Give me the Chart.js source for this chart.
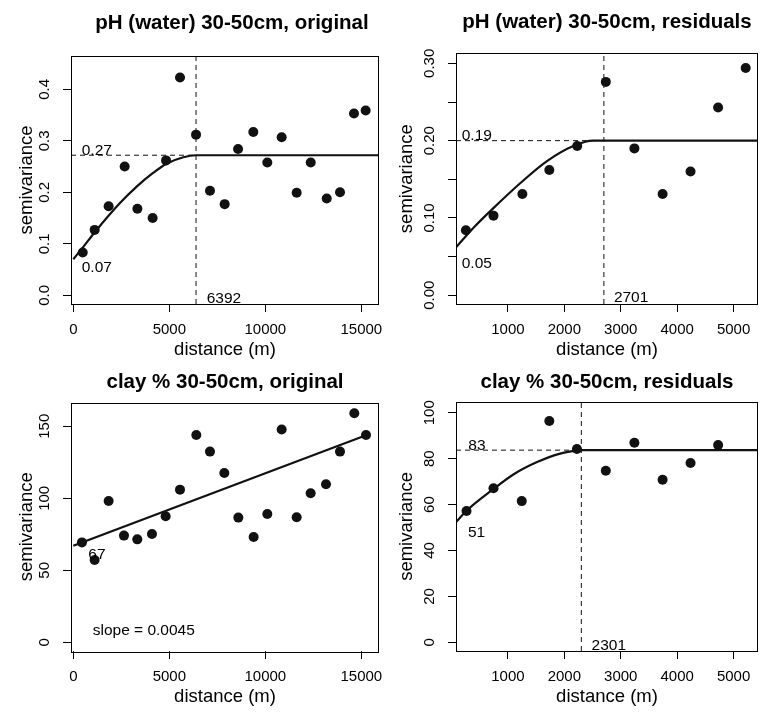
<!DOCTYPE html>
<html>
<head>
<meta charset="utf-8">
<script src="https://cdn.jsdelivr.net/npm/chart.js@4.4.1/dist/chart.umd.min.js"></script>
<style>
  html, body { margin: 0; padding: 0; background: #fff; }
  #wrap { position: relative; width: 763px; height: 713px; }
  #wrap canvas { position: absolute; left: 0; top: 0; }
</style>
</head>
<body>
<div id="wrap">
  <canvas id="c1" width="763" height="713"></canvas>
  <canvas id="c2" width="763" height="713"></canvas>
  <canvas id="c3" width="763" height="713"></canvas>
  <canvas id="c4" width="763" height="713"></canvas>
</div>
<script>
// pH (water) 30-50cm, original
const phOrigDist = [490, 1113, 1840, 2674, 3337, 4132, 4830, 5557, 6392, 7118, 7882, 8580, 9375, 10104, 10851, 11632, 12365, 13198, 13889, 14618, 15226];
const phOrigGamma = [0.083, 0.127, 0.173, 0.250, 0.168, 0.150, 0.262, 0.423, 0.312, 0.203, 0.177, 0.284, 0.317, 0.258, 0.307, 0.199, 0.258, 0.188, 0.200, 0.353, 0.359];
const phOrigFitDist = [0, 520, 1130, 2430, 3300, 4170, 4830, 5730, 6392, 15920];
const phOrigFitGamma = [0.070, 0.094, 0.123, 0.179, 0.211, 0.238, 0.255, 0.268, 0.272, 0.272];

// pH (water) 30-50cm, residuals
const phResDist = [255, 744, 1256, 1734, 2228, 2735, 3242, 3742, 4237, 4726, 5215];
const phResGamma = [0.084, 0.103, 0.131, 0.162, 0.193, 0.276, 0.190, 0.131, 0.160, 0.243, 0.294];
const phResFitDist = [80, 411, 761, 1227, 1692, 2158, 2507, 2701, 5440];
const phResFitGamma = [0.062, 0.089, 0.114, 0.1455, 0.1735, 0.193, 0.200, 0.200, 0.200];

// clay % 30-50cm, original
const clayOrigDist = [451, 1111, 1840, 2639, 3333, 4097, 4809, 5556, 6406, 7118, 7865, 8594, 9392, 10104, 10851, 11632, 12361, 13160, 13889, 14635, 15243];
const clayOrigGamma = [69.4, 57.2, 98.1, 74.1, 71.5, 75.2, 87.5, 106.0, 144.0, 132.4, 117.6, 86.6, 73.1, 89.1, 147.7, 86.8, 103.5, 109.7, 132.4, 159.0, 144.0];
const clayOrigFitDist = [0, 15280];
const clayOrigFitGamma = [67.1, 144.0];

// clay % 30-50cm, residuals
const clayResDist = [266, 744, 1245, 1734, 2223, 2735, 3242, 3742, 4237, 4726];
const clayResGamma = [57.2, 67.1, 61.5, 96.4, 84.2, 74.7, 86.9, 70.8, 78.1, 85.9];
const clayResFitDist = [80, 267, 731, 1110, 1517, 1926, 2216, 2301, 5440];
const clayResFitGamma = [52.4, 57.3, 66.5, 73.3, 78.5, 82.2, 83.5, 83.7, 83.7];

// tick values
const xTicksLong = [0, 5000, 10000, 15000];
const xTicksShort = [1000, 2000, 3000, 4000, 5000];
const yTicksPhOrig = [0, 0.1, 0.2, 0.3, 0.4];
const yTicksPhRes = [0, 0.05, 0.10, 0.15, 0.20, 0.25, 0.30];
const yTicksClayOrig = [0, 50, 100, 150];
const yTicksClayRes = [0, 20, 40, 60, 80, 100];

const panelTitles = ['pH (water) 30-50cm, original', 'pH (water) 30-50cm, residuals', 'clay % 30-50cm, original', 'clay % 30-50cm, residuals'];
const sillLines = [0.272, 0.200, null, 83.7];
const rangeLines = [6392, 2701, null, 2301];
const noteTexts = [['0.27', '0.07', '6392'], ['0.19', '0.05', '2701'], ['67', 'slope = 0.0045'], ['83', '51', '2301']];

const FONT = '"Liberation Sans", Arial, Helvetica, sans-serif';
Chart.defaults.font.family = FONT;
Chart.defaults.color = '#000';

// text width, used to place the rotated y tick labels
const measureCtx = document.createElement('canvas').getContext('2d');
function textW(s, size) {
  measureCtx.font = size + 'px ' + FONT;
  return measureCtx.measureText(s).width;
}

const framePlugin = {
  id: 'frame',
  afterDraw(chart, args, opts) {
    const { ctx, chartArea: a, scales: { x, y } } = chart;
    ctx.save();
    ctx.strokeStyle = '#000';
    ctx.lineWidth = 1;
    ctx.strokeRect(Math.round(a.left) + 0.5, Math.round(a.top) + 0.5,
      Math.round(a.right - a.left) - 1, Math.round(a.bottom - a.top));
    ctx.fillStyle = '#000';
    ctx.textBaseline = 'alphabetic';
    ctx.textAlign = 'center';
    ctx.font = 'bold 20.5px ' + FONT;
    ctx.fillText(opts.title, opts.titleX != null ? opts.titleX : (a.left + a.right) / 2, opts.titleY);
    ctx.textAlign = 'left';
    ctx.font = '15.5px ' + FONT;
    opts.notes.forEach(n => {
      const px = n.x === 'min' ? a.left : x.getPixelForValue(n.x);
      const py = n.y === 'min' ? a.bottom : y.getPixelForValue(n.y);
      ctx.fillText(n.text, px + n.dx, py + n.dy);
    });
    ctx.restore();
  }
};

const layouts = [
  { left: 71, top: 56, right: 379, bottom: 304, yAxisW: 71, xMin: -120, xMax: 15920, yMin: -0.0169, yMax: 0.4647,
    xTicks: xTicksLong, yTicks: yTicksPhOrig, titleX: 232, titleY: 29, yFmt: v => v.toFixed(1), yWidest: '0.4',
    notes: [{ x: 'min', y: 0.272, dx: 10.7, dy: 0 }, { x: 'min', y: 0.07, dx: 10.7, dy: 12.5 }, { x: 6392, y: 'min', dx: 10.7, dy: -1.5 }] },
  { left: 456, top: 53.3, right: 762.5, bottom: 304, yAxisW: 75, xMin: 79.5, xMax: 5433, yMin: -0.0113, yMax: 0.313,
    xTicks: xTicksShort, yTicks: yTicksPhRes, titleX: null, titleY: 28,
    yFmt: v => (Math.round(v * 100) % 10 === 0 ? v.toFixed(2) : ''), yWidest: '0.00',
    notes: [{ x: 'min', y: 0.2, dx: 5.7, dy: -1 }, { x: 'min', y: 0.05, dx: 5.7, dy: 11.5 }, { x: 2701, y: 'min', dx: 10, dy: -2.3 }] },
  { left: 71, top: 402.5, right: 379, bottom: 651, yAxisW: 71, xMin: -120, xMax: 15920, yMin: -6, yMax: 166.5,
    xTicks: xTicksLong, yTicks: yTicksClayOrig, titleX: null, titleY: 388, yFmt: v => String(v), yWidest: '150',
    notes: [{ x: 0, y: 67, dx: 15, dy: 13 }, { x: 'min', y: 'min', dx: 21.7, dy: -16 }] },
  { left: 456, top: 401.7, right: 762.5, bottom: 651, yAxisW: 75, xMin: 79.5, xMax: 5433, yMin: -3.79, yMax: 104.8,
    xTicks: xTicksShort, yTicks: yTicksClayRes, titleX: null, titleY: 388, yFmt: v => String(v), yWidest: '100',
    notes: [{ x: 'min', y: 83.7, dx: 12.3, dy: 0 }, { x: 'min', y: 51, dx: 12, dy: 12 }, { x: 2301, y: 'min', dx: 10.3, dy: -1 }] }
];

const series = [
  [phOrigDist, phOrigGamma, phOrigFitDist, phOrigFitGamma],
  [phResDist, phResGamma, phResFitDist, phResFitGamma],
  [clayOrigDist, clayOrigGamma, clayOrigFitDist, clayOrigFitGamma],
  [clayResDist, clayResGamma, clayResFitDist, clayResFitGamma]
];

const X_AXIS_H = 60;
const TICK_LEN = 8;

layouts.forEach((L, i) => {
  const [dist, gamma, fitDist, fitGamma] = series[i];
  const datasets = [
    {
      data: dist.map((d, k) => ({ x: d, y: gamma[k] })),
      showLine: false, pointRadius: 5, pointBackgroundColor: '#111', pointBorderWidth: 0
    },
    {
      data: fitDist.map((d, k) => ({ x: d, y: fitGamma[k] })),
      showLine: true, borderColor: '#111', borderWidth: 2.2, pointRadius: 0,
      cubicInterpolationMode: 'monotone'
    }
  ];
  if (rangeLines[i] != null) {
    const dash = { showLine: true, borderColor: '#111', borderWidth: 1, borderDash: [5, 4], pointRadius: 0 };
    datasets.push(Object.assign({ data: [{ x: L.xMin, y: sillLines[i] }, { x: rangeLines[i], y: sillLines[i] }] }, dash));
    datasets.push(Object.assign({ data: [{ x: rangeLines[i], y: L.yMin }, { x: rangeLines[i], y: L.yMax }] }, dash));
  }

  const yTickPad = 26 - TICK_LEN - textW(L.yWidest, 15) / 2;

  new Chart(document.getElementById('c' + (i + 1)), {
    type: 'scatter',
    data: { datasets },
    options: {
      responsive: false,
      animation: false,
      devicePixelRatio: 1,
      events: [],
      layout: {
        padding: { left: L.left - L.yAxisW, top: L.top, right: 763 - L.right, bottom: 713 - L.bottom - X_AXIS_H }
      },
      plugins: {
        legend: { display: false },
        tooltip: { enabled: false },
        frame: {
          title: panelTitles[i], titleX: L.titleX, titleY: L.titleY,
          notes: L.notes.map((n, k) => Object.assign({ text: noteTexts[i][k] }, n))
        }
      },
      scales: {
        x: {
          type: 'linear', min: L.xMin, max: L.xMax,
          afterBuildTicks: s => { s.ticks = L.xTicks.map(v => ({ value: v })); },
          afterFit: s => { s.height = X_AXIS_H; },
          border: { display: false },
          grid: { drawOnChartArea: false, drawTicks: true, tickLength: TICK_LEN, color: '#000' },
          ticks: { autoSkip: false, maxRotation: 0, padding: 9,
            font: { size: 15 }, color: '#000', callback: v => String(v) },
          title: { display: true, text: 'distance (m)', font: { size: 18.5, lineHeight: 1 }, color: '#000',
            padding: { top: 0, bottom: 4.5 } }
        },
        y: {
          type: 'linear', min: L.yMin, max: L.yMax,
          afterBuildTicks: s => { s.ticks = L.yTicks.map(v => ({ value: v })); },
          afterFit: s => { s.width = L.yAxisW; },
          border: { display: false },
          grid: { drawOnChartArea: false, drawTicks: true, tickLength: TICK_LEN, color: '#000' },
          ticks: { autoSkip: false, minRotation: 90, maxRotation: 90,
            crossAlign: 'center', padding: yTickPad, font: { size: 15 }, color: '#000', callback: L.yFmt },
          title: { display: true, text: 'semivariance', font: { size: 18.5, lineHeight: 1 }, color: '#000',
            padding: { top: i % 2 === 0 ? 17.5 : 16.5, bottom: 0 } }
        }
      }
    },
    plugins: [framePlugin]
  });
});
</script>
</body>
</html>
